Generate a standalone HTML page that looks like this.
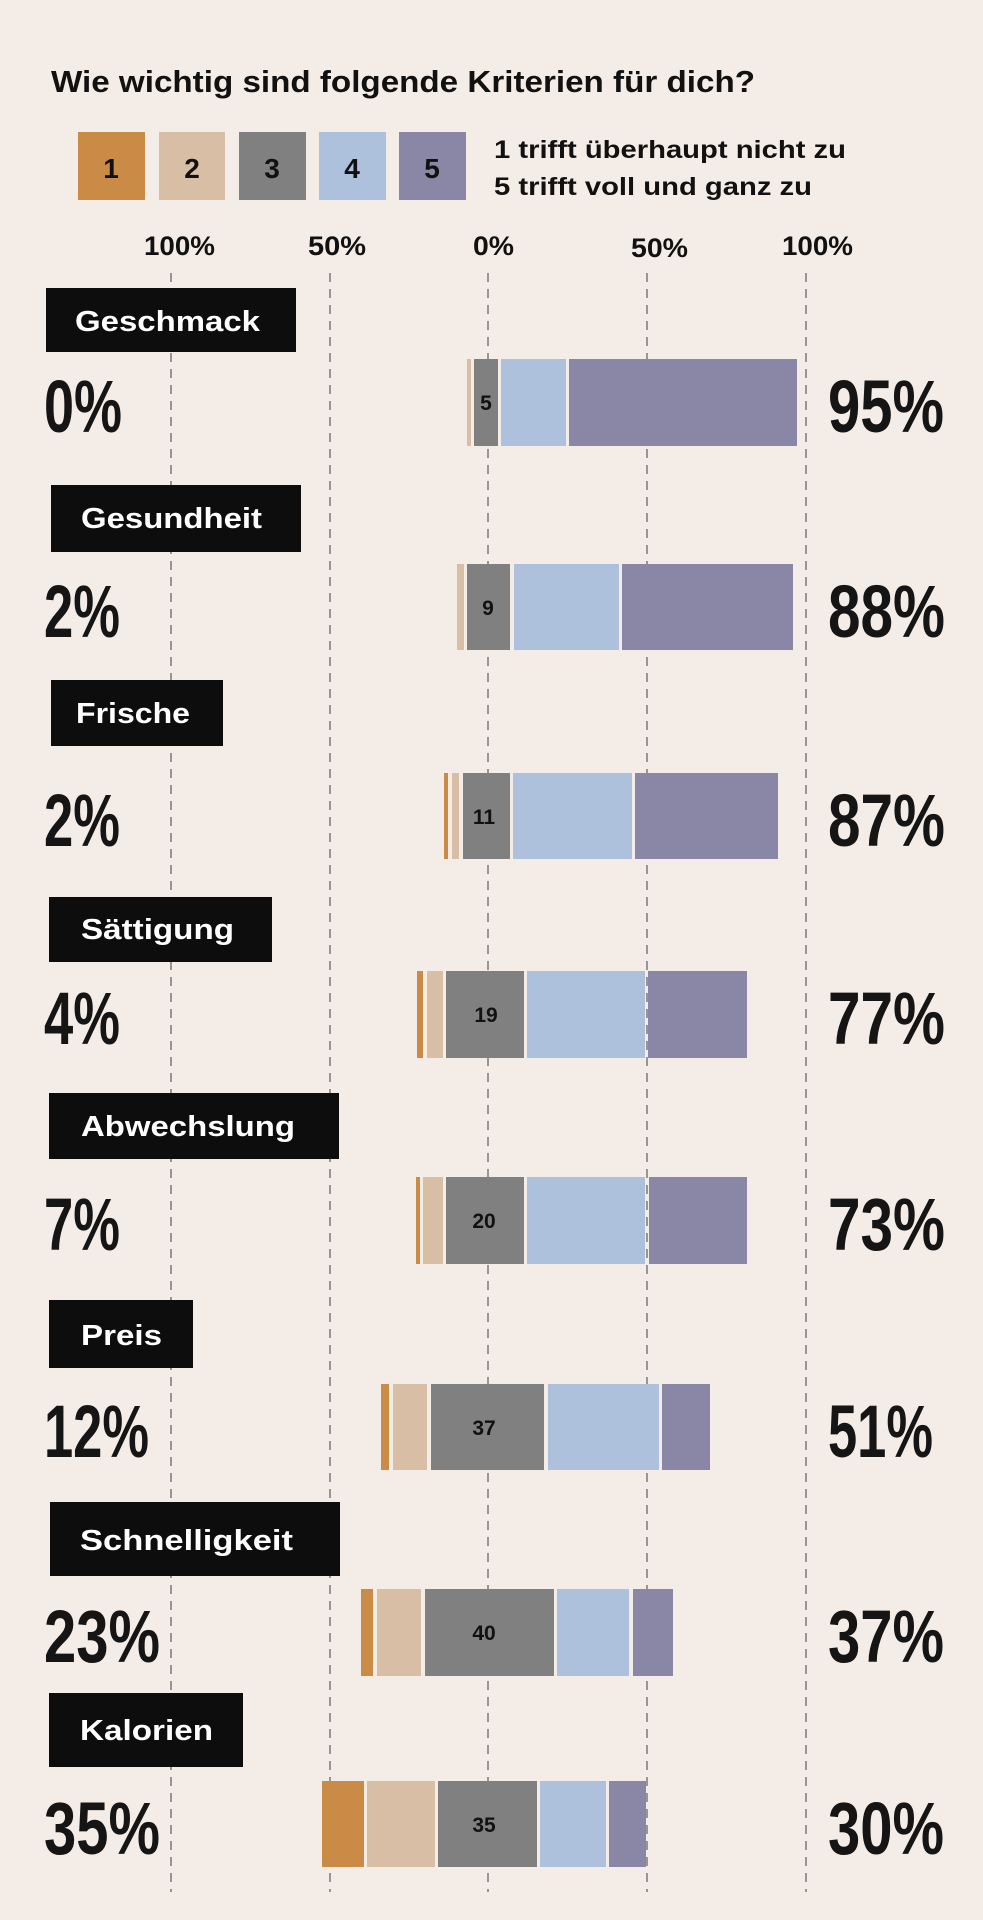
<!DOCTYPE html>
<html><head><meta charset="utf-8"><style>
html,body{margin:0;padding:0;background:#f3ece7;}
svg{display:block}
text{font-family:"Liberation Sans",sans-serif;font-weight:bold}
</style></head><body>
<svg width="983" height="1920" viewBox="0 0 983 1920" xmlns="http://www.w3.org/2000/svg">
<rect width="983" height="1920" fill="#f3ece7"/>
<text x="51" y="92" font-size="31" textLength="704" lengthAdjust="spacingAndGlyphs" fill="#111">Wie wichtig sind folgende Kriterien für dich?</text>
<g>
<rect x="78" y="132" width="67" height="68" fill="#c98b45"/>
<rect x="159" y="132" width="66" height="68" fill="#d7bea5"/>
<rect x="239" y="132" width="67" height="68" fill="#808080"/>
<rect x="319" y="132" width="67" height="68" fill="#adc1dc"/>
<rect x="399" y="132" width="67" height="68" fill="#8a86a5"/>
<g font-size="28" text-anchor="middle" fill="#111">
<text x="111" y="178">1</text><text x="192" y="178">2</text><text x="272" y="178">3</text><text x="352" y="178">4</text><text x="432" y="178">5</text>
</g>
<text x="494" y="158" font-size="25" textLength="352" lengthAdjust="spacingAndGlyphs" fill="#111">1 trifft überhaupt nicht zu</text>
<text x="494" y="195" font-size="25" textLength="318" lengthAdjust="spacingAndGlyphs" fill="#111">5 trifft voll und ganz zu</text>
</g>
<g font-size="27" fill="#111">
<text x="144" y="255" textLength="71" lengthAdjust="spacingAndGlyphs">100%</text>
<text x="308" y="255" textLength="58" lengthAdjust="spacingAndGlyphs">50%</text>
<text x="473" y="255" textLength="41" lengthAdjust="spacingAndGlyphs">0%</text>
<text x="631" y="257" textLength="57" lengthAdjust="spacingAndGlyphs">50%</text>
<text x="782" y="255" textLength="71" lengthAdjust="spacingAndGlyphs">100%</text>
</g>
<g stroke="#7a7a7a" stroke-width="1.5" stroke-dasharray="9,7">
<line x1="171" y1="273" x2="171" y2="1892"/>
<line x1="330" y1="273" x2="330" y2="1892"/>
<line x1="488" y1="273" x2="488" y2="1892"/>
<line x1="647" y1="273" x2="647" y2="1892"/>
<line x1="806" y1="273" x2="806" y2="1892"/>
</g>
<!-- label boxes -->
<g fill="#0d0d0d">
<rect x="46" y="288" width="250" height="64"/>
<rect x="51" y="485" width="250" height="67"/>
<rect x="51" y="680" width="172" height="66"/>
<rect x="49" y="897" width="223" height="65"/>
<rect x="49" y="1093" width="290" height="66"/>
<rect x="49" y="1300" width="144" height="68"/>
<rect x="50" y="1502" width="290" height="74"/>
<rect x="49" y="1693" width="194" height="74"/>
</g>
<g font-size="29" fill="#fff">
<text x="75" y="331" textLength="185" lengthAdjust="spacingAndGlyphs">Geschmack</text>
<text x="81" y="528" textLength="181" lengthAdjust="spacingAndGlyphs">Gesundheit</text>
<text x="76" y="723" textLength="114" lengthAdjust="spacingAndGlyphs">Frische</text>
<text x="81" y="939" textLength="153" lengthAdjust="spacingAndGlyphs">Sättigung</text>
<text x="81" y="1136" textLength="214" lengthAdjust="spacingAndGlyphs">Abwechslung</text>
<text x="81" y="1345" textLength="81" lengthAdjust="spacingAndGlyphs">Preis</text>
<text x="80" y="1550" textLength="213" lengthAdjust="spacingAndGlyphs">Schnelligkeit</text>
<text x="80" y="1740" textLength="133" lengthAdjust="spacingAndGlyphs">Kalorien</text>
</g>
<!-- bars -->
<g>
<rect x="467" y="359" width="4" height="87" fill="#d7bea5"/>
<rect x="474" y="359" width="24" height="87" fill="#808080"/>
<rect x="501" y="359" width="65" height="87" fill="#adc1dc"/>
<rect x="569" y="359" width="228" height="87" fill="#8a86a5"/>

<rect x="457" y="564" width="7" height="86" fill="#d7bea5"/>
<rect x="467" y="564" width="43" height="86" fill="#808080"/>
<rect x="514" y="564" width="105" height="86" fill="#adc1dc"/>
<rect x="622" y="564" width="171" height="86" fill="#8a86a5"/>

<rect x="444" y="773" width="4" height="86" fill="#c98b45"/>
<rect x="452" y="773" width="7" height="86" fill="#d7bea5"/>
<rect x="463" y="773" width="47" height="86" fill="#808080"/>
<rect x="513" y="773" width="119" height="86" fill="#adc1dc"/>
<rect x="635" y="773" width="143" height="86" fill="#8a86a5"/>

<rect x="417" y="971" width="6" height="87" fill="#c98b45"/>
<rect x="427" y="971" width="16" height="87" fill="#d7bea5"/>
<rect x="446" y="971" width="78" height="87" fill="#808080"/>
<rect x="527" y="971" width="118" height="87" fill="#adc1dc"/>
<rect x="648" y="971" width="99" height="87" fill="#8a86a5"/>

<rect x="416" y="1177" width="4" height="87" fill="#c98b45"/>
<rect x="423" y="1177" width="20" height="87" fill="#d7bea5"/>
<rect x="446" y="1177" width="78" height="87" fill="#808080"/>
<rect x="527" y="1177" width="118" height="87" fill="#adc1dc"/>
<rect x="649" y="1177" width="98" height="87" fill="#8a86a5"/>

<rect x="381" y="1384" width="8" height="86" fill="#c98b45"/>
<rect x="393" y="1384" width="34" height="86" fill="#d7bea5"/>
<rect x="431" y="1384" width="113" height="86" fill="#808080"/>
<rect x="548" y="1384" width="111" height="86" fill="#adc1dc"/>
<rect x="662" y="1384" width="48" height="86" fill="#8a86a5"/>

<rect x="361" y="1589" width="12" height="87" fill="#c98b45"/>
<rect x="377" y="1589" width="44" height="87" fill="#d7bea5"/>
<rect x="425" y="1589" width="129" height="87" fill="#808080"/>
<rect x="557" y="1589" width="72" height="87" fill="#adc1dc"/>
<rect x="633" y="1589" width="40" height="87" fill="#8a86a5"/>

<rect x="322" y="1781" width="42" height="86" fill="#c98b45"/>
<rect x="367" y="1781" width="68" height="86" fill="#d7bea5"/>
<rect x="438" y="1781" width="99" height="86" fill="#808080"/>
<rect x="540" y="1781" width="66" height="86" fill="#adc1dc"/>
<rect x="609" y="1781" width="37" height="86" fill="#8a86a5"/>
</g>
<g font-size="21" fill="#111" text-anchor="middle">
<text x="486" y="410">5</text>
<text x="488" y="615">9</text>
<text x="484" y="824">11</text>
<text x="486" y="1022">19</text>
<text x="484" y="1228">20</text>
<text x="484" y="1435">37</text>
<text x="484" y="1640">40</text>
<text x="484" y="1832">35</text>
</g>
<g font-size="74" fill="#151515">
<text x="44" y="432" textLength="78" lengthAdjust="spacingAndGlyphs">0%</text>
<text x="44" y="637" textLength="76" lengthAdjust="spacingAndGlyphs">2%</text>
<text x="44" y="846" textLength="76" lengthAdjust="spacingAndGlyphs">2%</text>
<text x="44" y="1044" textLength="76" lengthAdjust="spacingAndGlyphs">4%</text>
<text x="44" y="1250" textLength="76" lengthAdjust="spacingAndGlyphs">7%</text>
<text x="44" y="1457" textLength="105" lengthAdjust="spacingAndGlyphs">12%</text>
<text x="44" y="1662" textLength="116" lengthAdjust="spacingAndGlyphs">23%</text>
<text x="44" y="1854" textLength="116" lengthAdjust="spacingAndGlyphs">35%</text>
<text x="828" y="432" textLength="116" lengthAdjust="spacingAndGlyphs">95%</text>
<text x="828" y="637" textLength="117" lengthAdjust="spacingAndGlyphs">88%</text>
<text x="828" y="846" textLength="117" lengthAdjust="spacingAndGlyphs">87%</text>
<text x="828" y="1044" textLength="117" lengthAdjust="spacingAndGlyphs">77%</text>
<text x="828" y="1250" textLength="117" lengthAdjust="spacingAndGlyphs">73%</text>
<text x="828" y="1457" textLength="105" lengthAdjust="spacingAndGlyphs">51%</text>
<text x="828" y="1662" textLength="116" lengthAdjust="spacingAndGlyphs">37%</text>
<text x="828" y="1854" textLength="116" lengthAdjust="spacingAndGlyphs">30%</text>
</g>
</svg>
</body></html>
